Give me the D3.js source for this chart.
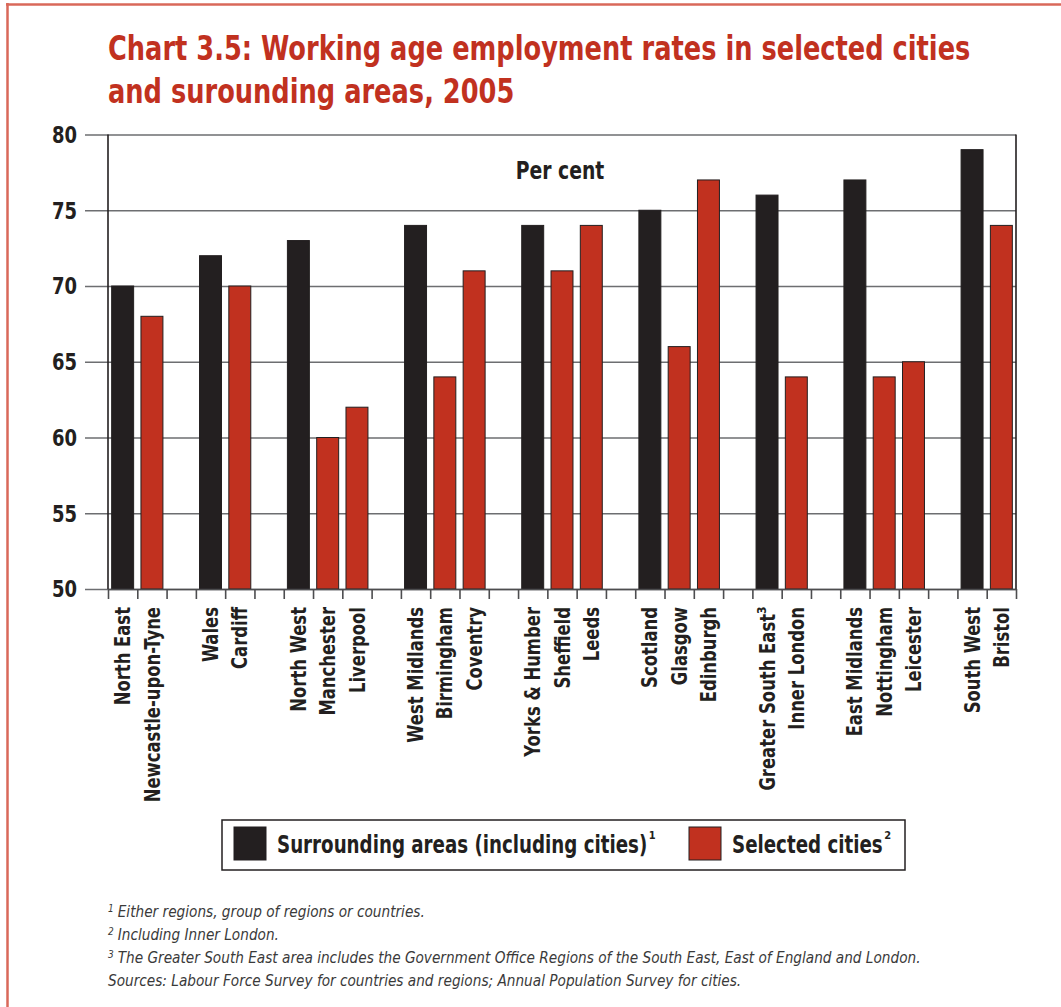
<!DOCTYPE html>
<html>
<head>
<meta charset="utf-8">
<script src="https://cdn.jsdelivr.net/npm/d3@7"></script>
<style>
  html, body { margin: 0; padding: 0; background: #fff; }
  svg { display: block; }
  .cond { font-family: "DejaVu Sans Condensed", "DejaVu Sans", "Liberation Sans", sans-serif; }
</style>
</head>
<body>
<svg id="chart" width="1061" height="1007"></svg>
<script>
// Employment rates (per cent), 2005: each region followed by its selected cities
const categories = [
  "North East", "Newcastle-upon-Tyne",
  "Wales", "Cardiff",
  "North West", "Manchester", "Liverpool",
  "West Midlands", "Birmingham", "Coventry",
  "Yorks & Humber", "Sheffield", "Leeds",
  "Scotland", "Glasgow", "Edinburgh",
  "Greater South East", "Inner London",
  "East Midlands", "Nottingham", "Leicester",
  "South West", "Bristol"
];
const values = [
  70, 68,
  72, 70,
  73, 60, 62,
  74, 64, 71,
  74, 71, 74,
  75, 66, 77,
  76, 64,
  77, 64, 65,
  79, 74
];
// "area" = surrounding area (region), "city" = selected city
const seriesOf = [
  "area", "city",
  "area", "city",
  "area", "city", "city",
  "area", "city", "city",
  "area", "city", "city",
  "area", "city", "city",
  "area", "city",
  "area", "city", "city",
  "area", "city"
];
const groupSizes = [2, 2, 3, 3, 3, 3, 2, 3, 2];
const labelSup = { "Greater South East": "3" };
const yTicks = [50, 55, 60, 65, 70, 75, 80];
const titleLines = [
  "Chart 3.5: Working age employment rates in selected cities",
  "and surounding areas, 2005"
];
const legendItems = [
  { key: "area", label: "Surrounding areas (including cities)", sup: "1" },
  { key: "city", label: "Selected cities", sup: "2" }
];
const footnotes = [
  { sup: "1", text: "Either regions, group of regions or countries." },
  { sup: "2", text: "Including Inner London." },
  { sup: "3", text: "The Greater South East area includes the Government Office Regions of the South East, East of England and London." },
  { sup: "", text: "Sources: Labour Force Survey for countries and regions; Annual Population Survey for cities." }
];

const colors = { area: "#231f20", city: "#c1311f" };
const titleColor = "#c1311f";
const ink = "#231f20";

// Horizontal squeeze factors giving the narrow bold face look
const squeezeTitle = 0.84;
const squeezeLabel = 0.87;
const squeezeLegend = 0.845;

const svg = d3.select("#chart");

// Outer frame
svg.append("line").attr("x1", 7.5).attr("x2", 7.5).attr("y1", 3).attr("y2", 1007)
  .attr("stroke", "#d9685a").attr("stroke-width", 2.5);
svg.append("line").attr("x1", 6).attr("x2", 1061).attr("y1", 4.5).attr("y2", 4.5)
  .attr("stroke", "#d9685a").attr("stroke-width", 2.5);

// Title
titleLines.forEach((line, i) => {
  svg.append("g").attr("transform", `translate(108,${60 + i * 43})`)
    .append("text").attr("class", "cond")
    .attr("transform", `scale(${squeezeTitle},1)`)
    .attr("fill", titleColor).attr("font-weight", "bold").attr("font-size", 34)
    .text(line);
});

// Slot layout: one slot per bar plus an empty slot between groups
const slotIndex = [];
let s = 0;
groupSizes.forEach((n, gi) => {
  for (let k = 0; k < n; k++) slotIndex.push(s++);
  if (gi < groupSizes.length - 1) s++;
});
const nSlots = s;

const plot = { left: 108, right: 1016, top: 134.5, bottom: 589 };

const x = d3.scaleBand()
  .domain(d3.range(nSlots))
  .range([plot.left, plot.right])
  .paddingInner(0.25)
  .paddingOuter(0.125);
const xEdge = d3.scaleLinear().domain([0, nSlots]).range([plot.left, plot.right]);
const y = d3.scaleLinear().domain([50, 80]).range([plot.bottom, plot.top]);

// Gridlines + y ticks
const yAxis = d3.axisLeft(y).tickValues(yTicks).tickSize(plot.right - plot.left + 23).tickFormat("");
const gy = svg.append("g").attr("transform", `translate(${plot.right},0)`).call(yAxis);
gy.select(".domain").remove();
gy.selectAll(".tick line").attr("stroke", "#6d6e71").attr("stroke-width", 1.6);

// Y tick labels
svg.append("g").selectAll("g").data(yTicks).join("g")
  .attr("transform", d => `translate(77,${y(d)})`)
  .append("text").attr("class", "cond")
  .attr("transform", `scale(${squeezeLabel},1)`)
  .attr("dy", "0.36em")
  .attr("text-anchor", "end").attr("font-weight", "bold").attr("font-size", 23)
  .attr("fill", ink).text(d => d);

// Per cent label
svg.append("g").attr("transform", "translate(560,179)")
  .append("text").attr("class", "cond")
  .attr("transform", `scale(${squeezeLabel},1)`)
  .attr("text-anchor", "middle")
  .attr("font-weight", "bold").attr("font-size", 24).attr("fill", ink)
  .text("Per cent");

// Bars
svg.append("g").selectAll("rect").data(values).join("rect")
  .attr("x", (d, i) => x(slotIndex[i]))
  .attr("width", x.bandwidth())
  .attr("y", d => y(d))
  .attr("height", d => y(50) - y(d))
  .attr("fill", (d, i) => colors[seriesOf[i]])
  .attr("stroke", ink).attr("stroke-width", 1);

// Plot frame: left axis line and right border
svg.append("line").attr("x1", plot.left).attr("x2", plot.left).attr("y1", plot.top).attr("y2", plot.bottom)
  .attr("stroke", ink).attr("stroke-width", 1.6);
svg.append("line").attr("x1", plot.right).attr("x2", plot.right).attr("y1", plot.top).attr("y2", plot.bottom)
  .attr("stroke", ink).attr("stroke-width", 1.6);

// X axis: ticks at slot boundaries
const xAxis = d3.axisBottom(xEdge).tickValues(d3.range(nSlots + 1)).tickSize(10).tickSizeOuter(0).tickFormat("");
const gx = svg.append("g").attr("transform", `translate(0,${plot.bottom})`).call(xAxis);
gx.select(".domain").attr("stroke", "#4d4d4f").attr("stroke-width", 1.6);
gx.selectAll(".tick line").attr("stroke", "#4d4d4f").attr("stroke-width", 1.6);

// X category labels, rotated to read upwards
const xl = svg.append("g").selectAll("g").data(categories).join("g")
  .attr("transform", (d, i) => `translate(${x(slotIndex[i]) + x.bandwidth() / 2},607) rotate(-90)`);
xl.append("text").attr("class", "cond")
  .attr("transform", `scale(${squeezeLabel},1)`)
  .attr("x", d => labelSup[d] ? -8 : 0)
  .attr("dy", "0.36em")
  .attr("text-anchor", "end").attr("font-weight", "bold").attr("font-size", 21)
  .attr("fill", ink).text(d => d);
xl.filter(d => labelSup[d]).append("text").attr("class", "cond")
  .attr("x", -7).attr("dy", "-0.05em")
  .attr("font-weight", "bold").attr("font-size", 12)
  .attr("fill", ink).text(d => labelSup[d]);

// Legend
const legend = svg.append("g");
legend.append("rect").attr("x", 222).attr("y", 820).attr("width", 683).attr("height", 50)
  .attr("fill", "#fff").attr("stroke", ink).attr("stroke-width", 1.5);
const legendX = [234, 689];
legendItems.forEach((it, i) => {
  const g = legend.append("g").attr("transform", `translate(${legendX[i]},827)`);
  g.append("rect").attr("width", 32).attr("height", 33)
    .attr("fill", colors[it.key]).attr("stroke", ink).attr("stroke-width", 1);
  const t = g.append("g").attr("transform", "translate(43,26)")
    .append("text").attr("class", "cond")
    .attr("transform", `scale(${squeezeLegend},1)`)
    .attr("font-weight", "bold").attr("font-size", 24).attr("fill", ink)
    .text(it.label);
  const w = t.node().getComputedTextLength() * squeezeLegend;
  g.append("text").attr("class", "cond")
    .attr("x", 43 + w + 1.5).attr("y", 12)
    .attr("font-weight", "bold").attr("font-size", 11).attr("fill", ink)
    .text(it.sup);
});

// Footnotes
const fn = svg.append("g").attr("class", "cond")
  .attr("font-style", "italic").attr("font-size", 15.2).attr("fill", "#3a3a3a");
footnotes.forEach((f, i) => {
  const yy = 917 + i * 23;
  const t = fn.append("text").attr("x", 108).attr("y", yy);
  if (f.sup) {
    t.append("tspan").attr("font-size", 10).attr("dy", -5).text(f.sup);
    t.append("tspan").attr("dy", 5).attr("dx", 4).text(f.text);
  } else {
    t.append("tspan").text(f.text);
  }
});
</script>
</body>
</html>
